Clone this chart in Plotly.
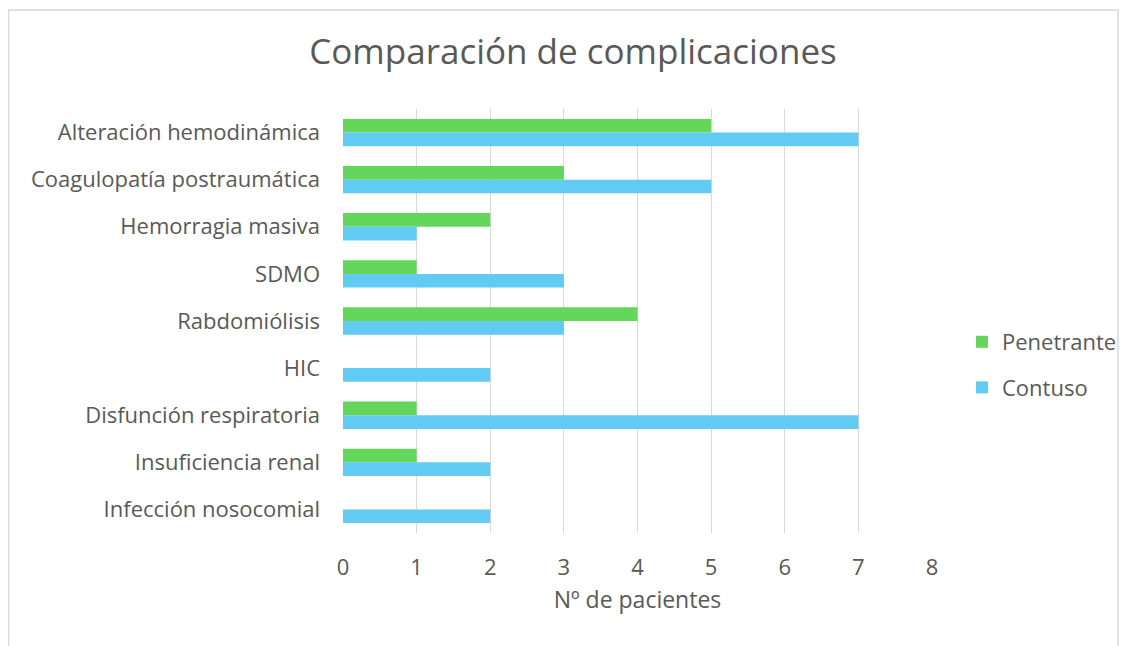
import plotly.graph_objects as go

categories = ["Alteración hemodinámica", "Coagulopatía postraumática", "Hemorragia masiva",
              "SDMO", "Rabdomiólisis", "HIC", "Disfunción respiratoria",
              "Insuficiencia renal", "Infección nosocomial"]
penetrante = [5, 3, 2, 1, 4, 0, 1, 1, 0]
contuso = [7, 5, 1, 3, 3, 2, 7, 2, 2]
x_ticks = [0, 1, 2, 3, 4, 5, 6, 7, 8]

FONT = "Open Sans"
GRAY = "#595959"

fig = go.Figure()
fig.add_trace(go.Bar(y=categories, x=penetrante, orientation="h", name="Penetrante",
                     marker=dict(color="#64d65c", line=dict(width=0)), legendgroup="a"))
fig.add_trace(go.Bar(y=categories, x=contuso, orientation="h", name="Contuso",
                     marker=dict(color="#61cbf3", line=dict(width=0)), legendgroup="b"))

W, H = 1131, 646
L, T = 335, 101
R = W - 924
B = H - 525
pw, ph = W - L - R, H - T - B

def px(x):
    return (x - L) / pw

def py(y):
    return (H - B - y) / ph

fig.update_layout(
    width=W, height=H,
    margin=dict(l=L, r=R, t=T, b=B, pad=0),
    paper_bgcolor="white", plot_bgcolor="white",
    barmode="group", bargap=0.42, bargroupgap=0,
    font=dict(family=FONT, color=GRAY, size=22),
    title=dict(text="Comparación de complicaciones", x=px(565), xref="paper",
               xanchor="center", y=1 - 44 / H, yanchor="middle",
               font=dict(size=35, color=GRAY, family=FONT)),
    xaxis=dict(range=[0, 8], tickvals=x_ticks, showgrid=True, gridcolor="#d9d9d9",
               gridwidth=1.3, zeroline=False, showline=False, ticks="",
               tickfont=dict(size=22, color=GRAY), ticklabelstandoff=19,
               title=dict(text="Nº de pacientes", font=dict(size=23, color=GRAY), standoff=11)),
    yaxis=dict(autorange="reversed", showgrid=False, zeroline=False, showline=False,
               ticks="", tickfont=dict(size=22, color=GRAY), ticklabelstandoff=22),
    legend=dict(x=px(954), y=py(313), xanchor="left", yanchor="top",
                font=dict(size=22, color=GRAY), tracegroupgap=14,
                traceorder="grouped", itemwidth=30, bgcolor="rgba(0,0,0,0)"),
    shapes=[dict(type="rect", xref="paper", yref="paper",
                 x0=px(0.5), x1=px(1110), y0=py(660), y1=py(2),
                 line=dict(color="#d9d9d9", width=1.5), fillcolor="rgba(0,0,0,0)",
                 layer="below")],
)

fig.write_html("out.html")
